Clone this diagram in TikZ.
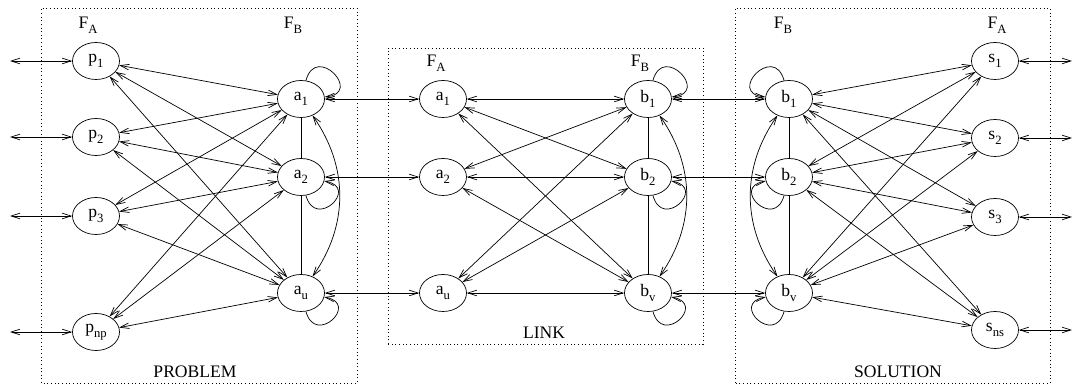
\documentclass[tikz,border=0pt]{standalone}
\usepackage{fontspec}
\setmainfont{Liberation Serif}
\usetikzlibrary{shapes.geometric,arrows.meta}
\newcommand{\sub}[2]{#1\raisebox{-0.6ex}{\fontsize{9}{10}\selectfont #2}}
\tikzset{
  unit/.style={draw, ellipse, minimum width=1.175cm, minimum height=0.925cm, inner sep=0pt},
  link/.style={<->},
  box/.style={dotted, line width=0.6pt},
  selfloop/.style={->, looseness=4},
}
\begin{document}
\begin{tikzpicture}[x=0.025cm, y=0.025cm, line width=0.5pt,
    font=\fontsize{12.5}{14}\selectfont,
    >={Straight Barb[length=2.2mm,width=1.4mm]}]
    \useasboundingbox (0,0) rectangle (1074,385);
    % \draw[help lines,step=20] (0,0) grid (1074,385);
    \draw[box] (41,2) rectangle (357,377);
    \draw[box] (388,41) rectangle (703,337);
    \draw[box] (735,2) rectangle (1050,377);
    \node (tprob) at (195,13) {PROBLEM};
    \node (tlink) at (544,52) {LINK};
    \node (tsol) at (898,13) {SOLUTION};

    \node (fpa) at (88,360) {\sub{F}{A}};
    \node (fpb) at (293,360) {\sub{F}{B}};
    \node (fla) at (436,322) {\sub{F}{A}};
    \node (flb) at (640,322) {\sub{F}{B}};
    \node (fsb) at (783,360) {\sub{F}{B}};
    \node (fsa) at (997,360) {\sub{F}{A}};

    % problem
    \node[unit] (p1) at (96,324) {\sub{p}{1}};
    \node[unit] (p2) at (96,248) {\sub{p}{2}};
    \node[unit] (p3) at (96,169) {\sub{p}{3}};
    \node[unit] (pnp) at (96,53) {\sub{p}{np}};
    \node[unit] (a1) at (301,286) {\sub{a}{1}};
    \node[unit] (a2) at (301,208) {\sub{a}{2}};
    \node[unit] (au) at (301,92) {\sub{a}{u}};

    % link
    \node[unit] (la1) at (443,286) {\sub{a}{1}};
    \node[unit] (la2) at (443,208) {\sub{a}{2}};
    \node[unit] (lau) at (443,92) {\sub{a}{u}};
    \node[unit] (lb1) at (648,286) {\sub{b}{1}};
    \node[unit] (lb2) at (648,208) {\sub{b}{2}};
    \node[unit] (lbv) at (648,92) {\sub{b}{v}};

    % solution
    \node[unit] (sb1) at (789,286) {\sub{b}{1}};
    \node[unit] (sb2) at (789,208) {\sub{b}{2}};
    \node[unit] (sbv) at (789,92) {\sub{b}{v}};
    \node[unit] (s1) at (995,324) {\sub{s}{1}};
    \node[unit] (s2) at (995,247) {\sub{s}{2}};
    \node[unit] (s3) at (995,168) {\sub{s}{3}};
    \node[unit] (sns) at (995,55) {\sub{s}{ns}};

    % inputs and outputs
    \foreach \n in {p1,p2,p3,pnp}
    {
        \coordinate (in-\n) at (10,0 |- \n);
        \draw[link] (in-\n) -- (\n);
    }
    \foreach \n in {s1,s2,s3,sns}
    {
        \coordinate (out-\n) at (1072,0 |- \n);
        \draw[link] (\n) -- (out-\n);
    }

    \foreach \p in {p1,p2,p3,pnp}
        \foreach \a in {a1,a2,au}
            \draw[link] (\p) -- (\a);
    \foreach \a in {la1,la2,lau}
        \foreach \b in {lb1,lb2,lbv}
            \draw[link] (\a) -- (\b);
    \foreach \b in {sb1,sb2,sbv}
        \foreach \s in {s1,s2,s3,sns}
            \draw[link] (\b) -- (\s);

    \draw[link] (a1) -- (la1);
    \draw[link] (a2) -- (la2);
    \draw[link] (au) -- (lau);
    \draw[link] (lb1) -- (sb1);
    \draw[link] (lb2) -- (sb2);
    \draw[link] (lbv) -- (sbv);

    \draw (a1) -- (a2) -- (au);
    \draw (lb1) -- (lb2) -- (lbv);
    \draw (sb1) -- (sb2) -- (sbv);
    \draw[link] (a1) to [bend left=35] (au);
    \draw[link] (lb1) to [bend left=35] (lbv);
    \draw[link] (sb1) to [bend right=35] (sbv);

    % self loops
    \draw[selfloop] (a1) to [out=75,in=5] (a1);
    \draw[selfloop] (a2) to [out=-75,in=-10] (a2);
    \draw[selfloop] (au) to [out=-75,in=-10] (au);
    \draw[selfloop] (lb1) to [out=75,in=5] (lb1);
    \draw[selfloop] (lb2) to [out=-75,in=-10] (lb2);
    \draw[selfloop] (lbv) to [out=-75,in=-10] (lbv);
    \draw[selfloop] (sb1) to [out=105,in=175] (sb1);
    \draw[selfloop] (sb2) to [out=-105,in=-170] (sb2);
    \draw[selfloop] (sbv) to [out=-105,in=-170] (sbv);
\end{tikzpicture}
\end{document}
